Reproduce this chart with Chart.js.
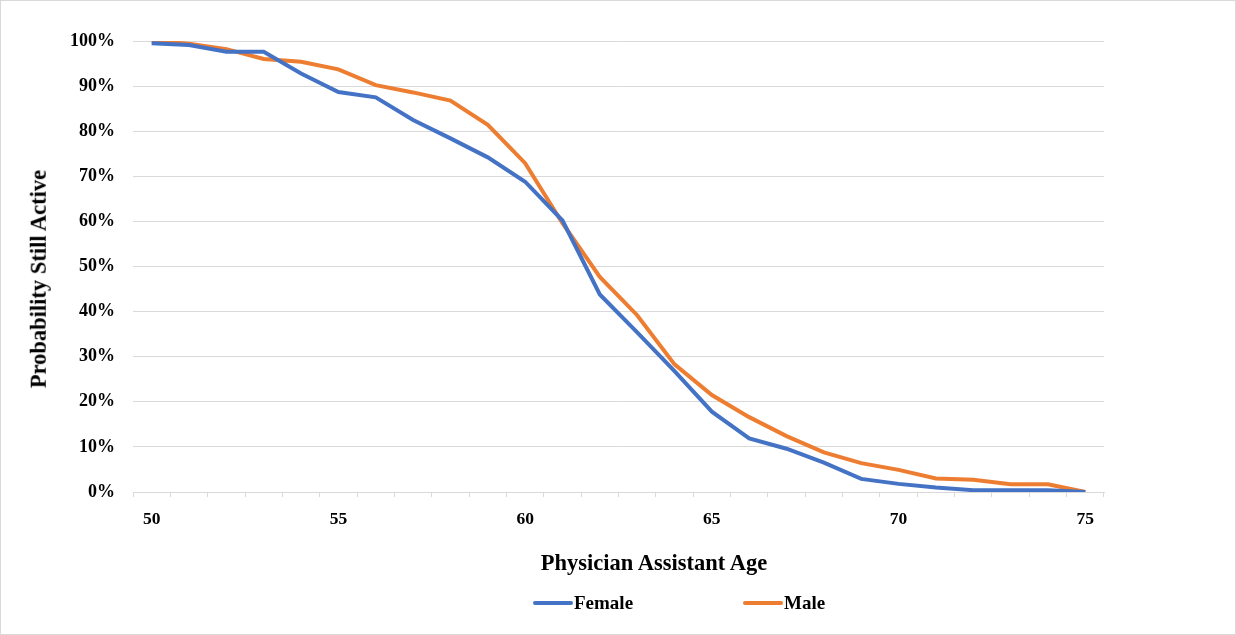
<!DOCTYPE html>
<html>
<head>
<meta charset="utf-8">
<script src="https://cdn.jsdelivr.net/npm/chart.js@4.4.1/dist/chart.umd.min.js"></script>
<style>
    body { margin: 0; background: #fff; }
    #wrap {
        position: relative;
        width: 1236px;
        height: 635px;
        box-sizing: border-box;
        border: 1px solid #d9d9d9;
        background: #fff;
        font-family: "Liberation Serif", "Times New Roman", serif;
        color: #000;
    }
    #wrap canvas { position: absolute; left: 0; top: 0; }
    .title {
        position: absolute;
        font-weight: bold;
        font-size: 22.5px;
        line-height: 1;
        white-space: nowrap;
    }
    #xTitle { left: 653px; top: 551px; transform: translateX(-50%); }
    #yTitle { left: 38px; top: 278px; transform: translate(-50%, -50%) rotate(-90deg); }
    #legend {
        position: absolute;
        left: 532px;
        top: 591px;
        display: flex;
        gap: 110px;
        font-weight: bold;
        font-size: 19px;
        line-height: 22px;
    }
    .item { display: flex; align-items: center; }
    .swatch { width: 40px; height: 4px; margin-right: 1px; border-radius: 2px; }
</style>
</head>
<body>
<div id="wrap">
    <canvas id="myChart" width="1234" height="633"></canvas>
    <div class="title" id="yTitle">Probability Still Active</div>
    <div class="title" id="xTitle">Physician Assistant Age</div>
    <div id="legend"></div>
</div>
<script>
const ages = ["50", "51", "52", "53", "54", "55", "56", "57", "58", "59", "60", "61", "62",
    "63", "64", "65", "66", "67", "68", "69", "70", "71", "72", "73", "74", "75"];

const female = [99.5, 99.1, 97.6, 97.6, 92.8, 88.7, 87.5, 82.5, 78.4, 74.2, 68.8, 60.2, 43.8,
    35.4, 26.8, 17.8, 11.9, 9.6, 6.5, 2.9, 1.8, 1.0, 0.4, 0.4, 0.4, 0];

const male = [100, 99.4, 98.2, 96.0, 95.4, 93.7, 90.2, 88.6, 86.8, 81.4, 72.9, 59.6, 47.7,
    39.2, 28.3, 21.5, 16.6, 12.4, 8.8, 6.4, 4.9, 3.0, 2.7, 1.7, 1.7, 0];

const yTicks = [0, 10, 20, 30, 40, 50, 60, 70, 80, 90, 100];

const serif = '"Liberation Serif", "Times New Roman", serif';

const ctx = document.getElementById("myChart").getContext("2d");

const chart = new Chart(ctx, {
    type: "line",
    data: {
        labels: ages,
        datasets: [
            {
                label: "Female",
                data: female,
                borderColor: "#4472C4",
                backgroundColor: "#4472C4",
                borderWidth: 4,
                pointRadius: 0,
                tension: 0,
            },
            {
                label: "Male",
                data: male,
                borderColor: "#ED7D31",
                backgroundColor: "#ED7D31",
                borderWidth: 4,
                pointRadius: 0,
                tension: 0,
            },
        ],
    },
    options: {
        responsive: false,
        animation: false,
        layout: {
            padding: { top: 40, right: 131, bottom: 42, left: 0 },
        },
        plugins: {
            legend: { display: false },
            tooltip: { enabled: false },
        },
        scales: {
            x: {
                type: "category",
                offset: true,
                grid: {
                    offset: true,
                    drawOnChartArea: false,
                    drawTicks: true,
                    tickLength: 5,
                    color: "#d9d9d9",
                },
                border: { display: true, color: "#d9d9d9", width: 1 },
                ticks: {
                    autoSkip: false,
                    maxRotation: 0,
                    padding: 12,
                    color: "#000",
                    font: { family: serif, size: 17.5, weight: "bold" },
                    callback: function (value) {
                        const lbl = ages[value];
                        return Number(lbl) % 5 === 0 ? lbl : "";
                    },
                },
                afterFit: function (scale) {
                    scale.height = 100;
                },
            },
            y: {
                min: 0,
                max: 100,
                afterBuildTicks: function (scale) {
                    scale.ticks = yTicks.map((v) => ({ value: v }));
                },
                grid: {
                    drawTicks: false,
                    color: "#d9d9d9",
                },
                border: { display: false },
                ticks: {
                    padding: 18,
                    color: "#000",
                    font: { family: serif, size: 18, weight: "bold" },
                    callback: (v) => v + "%",
                },
                afterFit: function (scale) {
                    scale.width = 132;
                },
            },
        },
    },
});

// legend below the chart, built from the datasets
const legend = document.getElementById("legend");
chart.data.datasets.forEach((ds) => {
    const item = document.createElement("div");
    item.className = "item";
    const sw = document.createElement("span");
    sw.className = "swatch";
    sw.style.background = ds.borderColor;
    const txt = document.createElement("span");
    txt.textContent = ds.label;
    item.appendChild(sw);
    item.appendChild(txt);
    legend.appendChild(item);
});
</script>
</body>
</html>
